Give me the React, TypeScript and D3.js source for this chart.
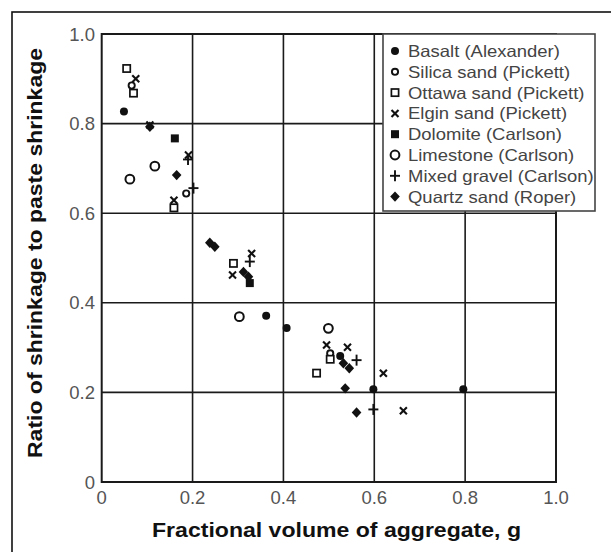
import React from "react";
import * as d3 from "d3";

const xTicks = [0, 0.2, 0.4, 0.6, 0.8, 1.0];
const yTicks = [0, 0.2, 0.4, 0.6, 0.8, 1.0];
const tickLabels = ["0", "0.2", "0.4", "0.6", "0.8", "1.0"];

const seriesNames = [
  "Basalt (Alexander)",
  "Silica sand (Pickett)",
  "Ottawa sand (Pickett)",
  "Elgin sand (Pickett)",
  "Dolomite (Carlson)",
  "Limestone (Carlson)",
  "Mixed gravel (Carlson)",
  "Quartz sand (Roper)",
];
const seriesMarkers = ["dot", "circleSmall", "squareOpen", "x", "squareFilled", "circleLarge", "plus", "diamond"];

const basaltX = [0.049, 0.362, 0.407, 0.525, 0.598, 0.796];
const basaltY = [0.827, 0.371, 0.344, 0.281, 0.207, 0.207];
const silicaX = [0.066, 0.186, 0.503];
const silicaY = [0.885, 0.644, 0.287];
const ottawaX = [0.055, 0.07, 0.159, 0.29, 0.473, 0.503];
const ottawaY = [0.923, 0.868, 0.612, 0.488, 0.243, 0.274];
const elginX = [0.075, 0.106, 0.191, 0.159, 0.288, 0.33, 0.495, 0.541, 0.62, 0.664];
const elginY = [0.9, 0.797, 0.73, 0.629, 0.462, 0.51, 0.306, 0.301, 0.243, 0.159];
const dolomiteX = [0.161, 0.326];
const dolomiteY = [0.767, 0.444];
const limestoneX = [0.117, 0.062, 0.303, 0.499];
const limestoneY = [0.705, 0.676, 0.369, 0.343];
const gravelX = [0.19, 0.202, 0.326, 0.561, 0.598];
const gravelY = [0.72, 0.656, 0.492, 0.272, 0.162];
const quartzX = [0.106, 0.165, 0.238, 0.249, 0.312, 0.323, 0.532, 0.545, 0.536, 0.561];
const quartzY = [0.793, 0.685, 0.534, 0.525, 0.469, 0.458, 0.265, 0.254, 0.209, 0.155];

const seriesXs = [basaltX, silicaX, ottawaX, elginX, dolomiteX, limestoneX, gravelX, quartzX];
const seriesYs = [basaltY, silicaY, ottawaY, elginY, dolomiteY, limestoneY, gravelY, quartzY];

const FONT = "'Liberation Sans', Arial, Helvetica, sans-serif";

function Marker({ type, x, y }: { type: string; x: number; y: number }) {
  switch (type) {
    case "dot":
      return <circle cx={x} cy={y} r={4} fill="#111" />;
    case "circleSmall":
      return <circle cx={x} cy={y} r={3.1} fill="#fff" stroke="#111" strokeWidth={1.9} />;
    case "squareOpen":
      return <rect x={x - 3.6} y={y - 3.6} width={7.2} height={7.2} fill="#fff" stroke="#111" strokeWidth={1.7} />;
    case "x":
      return (
        <g stroke="#111" strokeWidth={2.1}>
          <line x1={x - 3.5} y1={y - 3.5} x2={x + 3.5} y2={y + 3.5} />
          <line x1={x - 3.5} y1={y + 3.5} x2={x + 3.5} y2={y - 3.5} />
        </g>
      );
    case "squareFilled":
      return <rect x={x - 4} y={y - 4} width={8} height={8} fill="#111" />;
    case "circleLarge":
      return <circle cx={x} cy={y} r={4.4} fill="#fff" stroke="#111" strokeWidth={2} />;
    case "plus":
      return (
        <g stroke="#111" strokeWidth={1.9}>
          <line x1={x - 5} y1={y} x2={x + 5} y2={y} />
          <line x1={x} y1={y - 5.5} x2={x} y2={y + 5.5} />
        </g>
      );
    case "diamond": {
      const p = d3.line()([
        [0, -5.2],
        [4.8, 0],
        [0, 5.2],
        [-4.8, 0],
      ]) + "Z";
      return <path d={p} transform={`translate(${x},${y})`} fill="#111" />;
    }
  }
  return null;
}

export default function App() {
  const W = 611;
  const H = 552;
  const xs = d3.scaleLinear().domain([0, 1]).range([101.7, 556]);
  const ys = d3.scaleLinear().domain([0, 1]).range([482, 34]);

  const legX = 383;
  const legY = 34;
  const legW = 212;
  const legH = 177;
  const rowY0 = 51;
  const rowStep = 20.8;

  return (
    <svg
      width={W}
      height={H}
      viewBox={`0 0 ${W} ${H}`}
      style={{ position: "absolute", left: 0, top: 0, background: "#fff" }}
      fontFamily={FONT}
    >
      <rect x={0} y={0} width={W} height={H} fill="#fff" />
      {/* outer frame */}
      <rect x={12} y={12} width={W + 20} height={H + 20} fill="none" stroke="#111" strokeWidth={1.6} />

      {/* grid */}
      {xTicks.slice(1, -1).map((t) => (
        <line key={"gx" + t} x1={xs(t)} x2={xs(t)} y1={ys(0)} y2={ys(1)} stroke="#1a1a1a" strokeWidth={1.6} />
      ))}
      {yTicks.slice(1, -1).map((t) => (
        <line key={"gy" + t} x1={xs(0)} x2={xs(1)} y1={ys(t)} y2={ys(t)} stroke="#1a1a1a" strokeWidth={1.6} />
      ))}
      <rect
        x={xs(0)}
        y={ys(1)}
        width={xs(1) - xs(0)}
        height={ys(0) - ys(1)}
        fill="none"
        stroke="#1a1a1a"
        strokeWidth={2}
      />

      {/* tick labels */}
      {yTicks.map((t, i) => (
        <text key={"yl" + t} x={95} y={ys(t) + 6.5} textAnchor="end" fontSize={18.5} fill="#555">
          {tickLabels[i]}
        </text>
      ))}
      {xTicks.map((t, i) => (
        <text key={"xl" + t} x={xs(t)} y={504} textAnchor="middle" fontSize={18.5} fill="#555">
          {tickLabels[i]}
        </text>
      ))}

      {/* axis titles */}
      <text
        x={336.5}
        y={537}
        textAnchor="middle"
        fontSize={20}
        fontWeight="bold"
        fill="#111"
        textLength={369}
        lengthAdjust="spacingAndGlyphs"
      >
        Fractional volume of aggregate, g
      </text>
      <text
        transform={`translate(42,253) rotate(-90)`}
        x={0}
        y={0}
        textAnchor="middle"
        fontSize={20.5}
        fontWeight="bold"
        fill="#111"
        textLength={410}
        lengthAdjust="spacingAndGlyphs"
      >
        Ratio of shrinkage to paste shrinkage
      </text>

      {/* data */}
      {seriesXs.map((arr, si) =>
        arr.map((v, j) => (
          <Marker key={`m${si}-${j}`} type={seriesMarkers[si]} x={xs(v)} y={ys(seriesYs[si][j])} />
        ))
      )}

      {/* legend */}
      <rect x={legX} y={legY} width={legW} height={legH} fill="#fff" stroke="#444" strokeWidth={1.6} />
      {seriesNames.map((name, i) => {
        const cy = rowY0 + i * rowStep;
        return (
          <g key={"lg" + i}>
            <Marker type={seriesMarkers[i]} x={395} y={cy} />
            <g transform={`translate(408,${cy + 6}) scale(1.12,1)`}>
              <text x={0} y={0} fontSize={16.5} fill="#444">
                {name}
              </text>
            </g>
          </g>
        );
      })}
    </svg>
  );
}
